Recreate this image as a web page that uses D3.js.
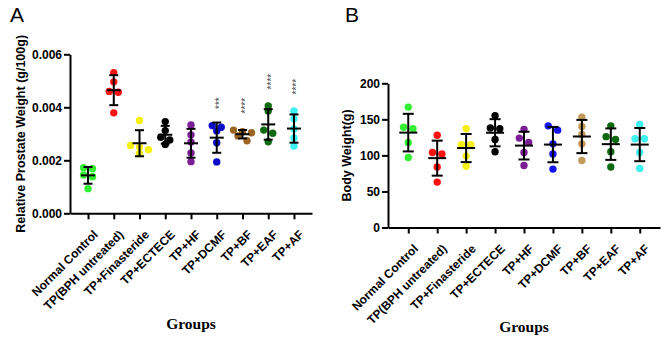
<!DOCTYPE html>
<html>
<head>
<meta charset="utf-8">
<script src="https://cdn.jsdelivr.net/npm/d3@7"></script>
<style>
body { margin: 0; background: #fff; }
text { font-family: Arial, "Liberation Sans", sans-serif; }
</style>
</head>
<body>
<div id="graph"></div>
<script>
var groups = ["Normal Control", "TP(BPH untreated)", "TP+Finasteride", "TP+ECTECE",
	"TP+HF", "TP+DCMF", "TP+BF", "TP+EAF", "TP+AF"];

// relative prostate weight (g/100g), one list per group
var prostate = [
	[0.00172, 0.00168, 0.00145, 0.00138, 0.00093],
	[0.00531, 0.00496, 0.00460, 0.00457, 0.00379],
	[0.00350, 0.00256, 0.00250, 0.00240, 0.00226],
	[0.00346, 0.00312, 0.00287, 0.00277, 0.00260],
	[0.00333, 0.00296, 0.00269, 0.00228, 0.00195],
	[0.00331, 0.00325, 0.00311, 0.00266, 0.00194],
	[0.00314, 0.00308, 0.00304, 0.00292, 0.00274],
	[0.00405, 0.00386, 0.00314, 0.00302, 0.00270],
	[0.00386, 0.00357, 0.00318, 0.00284, 0.00254]
];
var stars = ["", "", "", "", "", "***", "****", "****", "****"];

// body weight (g)
var bodyWeight = [
	[167, 139, 137, 118, 97],
	[128, 104, 102, 84, 63],
	[137, 115, 115, 99, 85],
	[155, 138, 137, 122, 105],
	[136, 124, 118, 104, 86],
	[141, 135, 116, 102, 81],
	[153, 140, 129, 116, 93],
	[141, 126, 122, 105, 84],
	[143, 123, 123, 104, 82]
];

var colorsA = ["#33ee33", "#ff1111", "#f5f011", "#000000", "#7b1e96", "#0b0bc8", "#9a6524", "#0e6a10", "#3ff0f0"],
	colorsB = ["#33ee33", "#ff1111", "#f5f011", "#000000", "#7b1e96", "#1414ee", "#c49a5a", "#0e6a10", "#3ff0f0"];

var ticksA = [0, 0.002, 0.004, 0.006],
	ticksB = [0, 50, 100, 150, 200];

var svg = d3.select("div#graph")
	.append("svg")
	.attr("width", 669)
	.attr("height", 342);

svg.append("rect").attr("width", 669).attr("height", 342).attr("fill", "#fff");

function drawPanel(cfg){
	var g = svg.append("g").attr("class", "panel-" + cfg.letter);

	var x = d3.scalePoint()
			.domain(groups)
			.range([cfg.left, cfg.right])
			.padding(0.7),
		y = d3.scaleLinear()
			.domain(cfg.domain)
			.range([cfg.bottom, cfg.top]);

	var yAxis = g.append("g")
		.attr("transform", "translate(" + cfg.left + ",0)")
		.call(d3.axisLeft(y).tickValues(cfg.ticks).tickFormat(cfg.fmt).tickSize(6).tickSizeOuter(0));

	var xAxis = g.append("g")
		.attr("transform", "translate(0," + cfg.bottom + ")")
		.call(d3.axisBottom(x).tickSize(6).tickSizeOuter(0));

	g.selectAll(".domain, .tick line").attr("stroke", "#000").attr("stroke-width", 2);
	yAxis.selectAll("text").attr("font-size", 12).attr("font-weight", "bold").attr("fill", "#000").attr("x", -8);
	xAxis.selectAll("text")
		.attr("font-size", 12).attr("font-weight", "bold").attr("fill", "#000")
		.attr("text-anchor", "end")
		.attr("x", 0).attr("y", 0).attr("dy", 0)
		.attr("transform", "translate(10,22) rotate(-45)");

	// points, spread sideways when they sit on the same level
	cfg.data.forEach(function(vals, i){
		var cx = x(groups[i]),
			pts = vals.map(function(v){ return {v: v, py: y(v)}; }).sort(function(a, b){ return a.py - b.py; }),
			rows = [];
		pts.forEach(function(p){
			var last = rows[rows.length - 1];
			if (last && p.py - last[0].py < 5) last.push(p);
			else rows.push([p]);
		});
		rows.forEach(function(r){
			r.forEach(function(p, k){ p.dx = (k - (r.length - 1) / 2) * cfg.spread; });
		});

		g.append("g").selectAll("circle")
			.data(pts).enter()
			.append("circle")
			.attr("cx", function(d){ return cx + d.dx; })
			.attr("cy", function(d){ return d.py; })
			.attr("r", 3.7)
			.attr("fill", cfg.colors[i]);

		var m = d3.mean(vals), sd = d3.deviation(vals),
			bars = g.append("g").attr("stroke", "#000").attr("stroke-width", 2);
		bars.append("line").attr("x1", cx).attr("x2", cx).attr("y1", y(m + sd)).attr("y2", y(m - sd));
		bars.append("line").attr("x1", cx - cfg.cap).attr("x2", cx + cfg.cap).attr("y1", y(m + sd)).attr("y2", y(m + sd));
		bars.append("line").attr("x1", cx - cfg.cap).attr("x2", cx + cfg.cap).attr("y1", y(m - sd)).attr("y2", y(m - sd));
		bars.append("line").attr("x1", cx - cfg.meanW).attr("x2", cx + cfg.meanW).attr("y1", y(m)).attr("y2", y(m));

		if (cfg.stars && cfg.stars[i]){
			var top = Math.min(y(m + sd), pts[0].py - 3.6);
			g.append("text")
				.attr("transform", "translate(" + (cx + 6.5) + "," + (top - 13) + ") rotate(-90)")
				.attr("font-size", 10)
				.attr("fill", "#444")
				.text(cfg.stars[i]);
		}
	});

	g.append("text")
		.attr("transform", "translate(" + cfg.labelX + "," + ((cfg.top + cfg.bottom) / 2) + ") rotate(-90)")
		.attr("text-anchor", "middle")
		.attr("font-size", 12.5)
		.attr("font-weight", "bold")
		.text(cfg.yLabel);

	g.append("text")
		.attr("x", (cfg.left + cfg.right) / 2)
		.attr("y", cfg.groupsY)
		.attr("text-anchor", "middle")
		.style("font-family", "'Times New Roman', 'Liberation Serif', serif")
		.attr("font-size", 15.5)
		.attr("font-weight", "bold")
		.text("Groups");

	g.append("text")
		.attr("x", cfg.letterX)
		.attr("y", 22)
		.attr("font-size", 21)
		.text(cfg.letter);
}

drawPanel({
	letter: "A", letterX: 10,
	left: 70, right: 312, top: 54.3, bottom: 213.3,
	domain: [0, 0.006], ticks: ticksA, fmt: d3.format(".3f"),
	data: prostate, colors: colorsA, stars: stars,
	spread: 9, cap: 4.5, meanW: 7,
	yLabel: "Relative Prostate Weight (g/100g)", labelX: 25, groupsY: 329
});

drawPanel({
	letter: "B", letterX: 345,
	left: 388, right: 660, top: 83.3, bottom: 227.5,
	domain: [0, 200], ticks: ticksB, fmt: d3.format("d"),
	data: bodyWeight, colors: colorsB, stars: null,
	spread: 9.4, cap: 5.5, meanW: 9,
	yLabel: "Body Weight(g)", labelX: 351, groupsY: 332
});
</script>
</body>
</html>
